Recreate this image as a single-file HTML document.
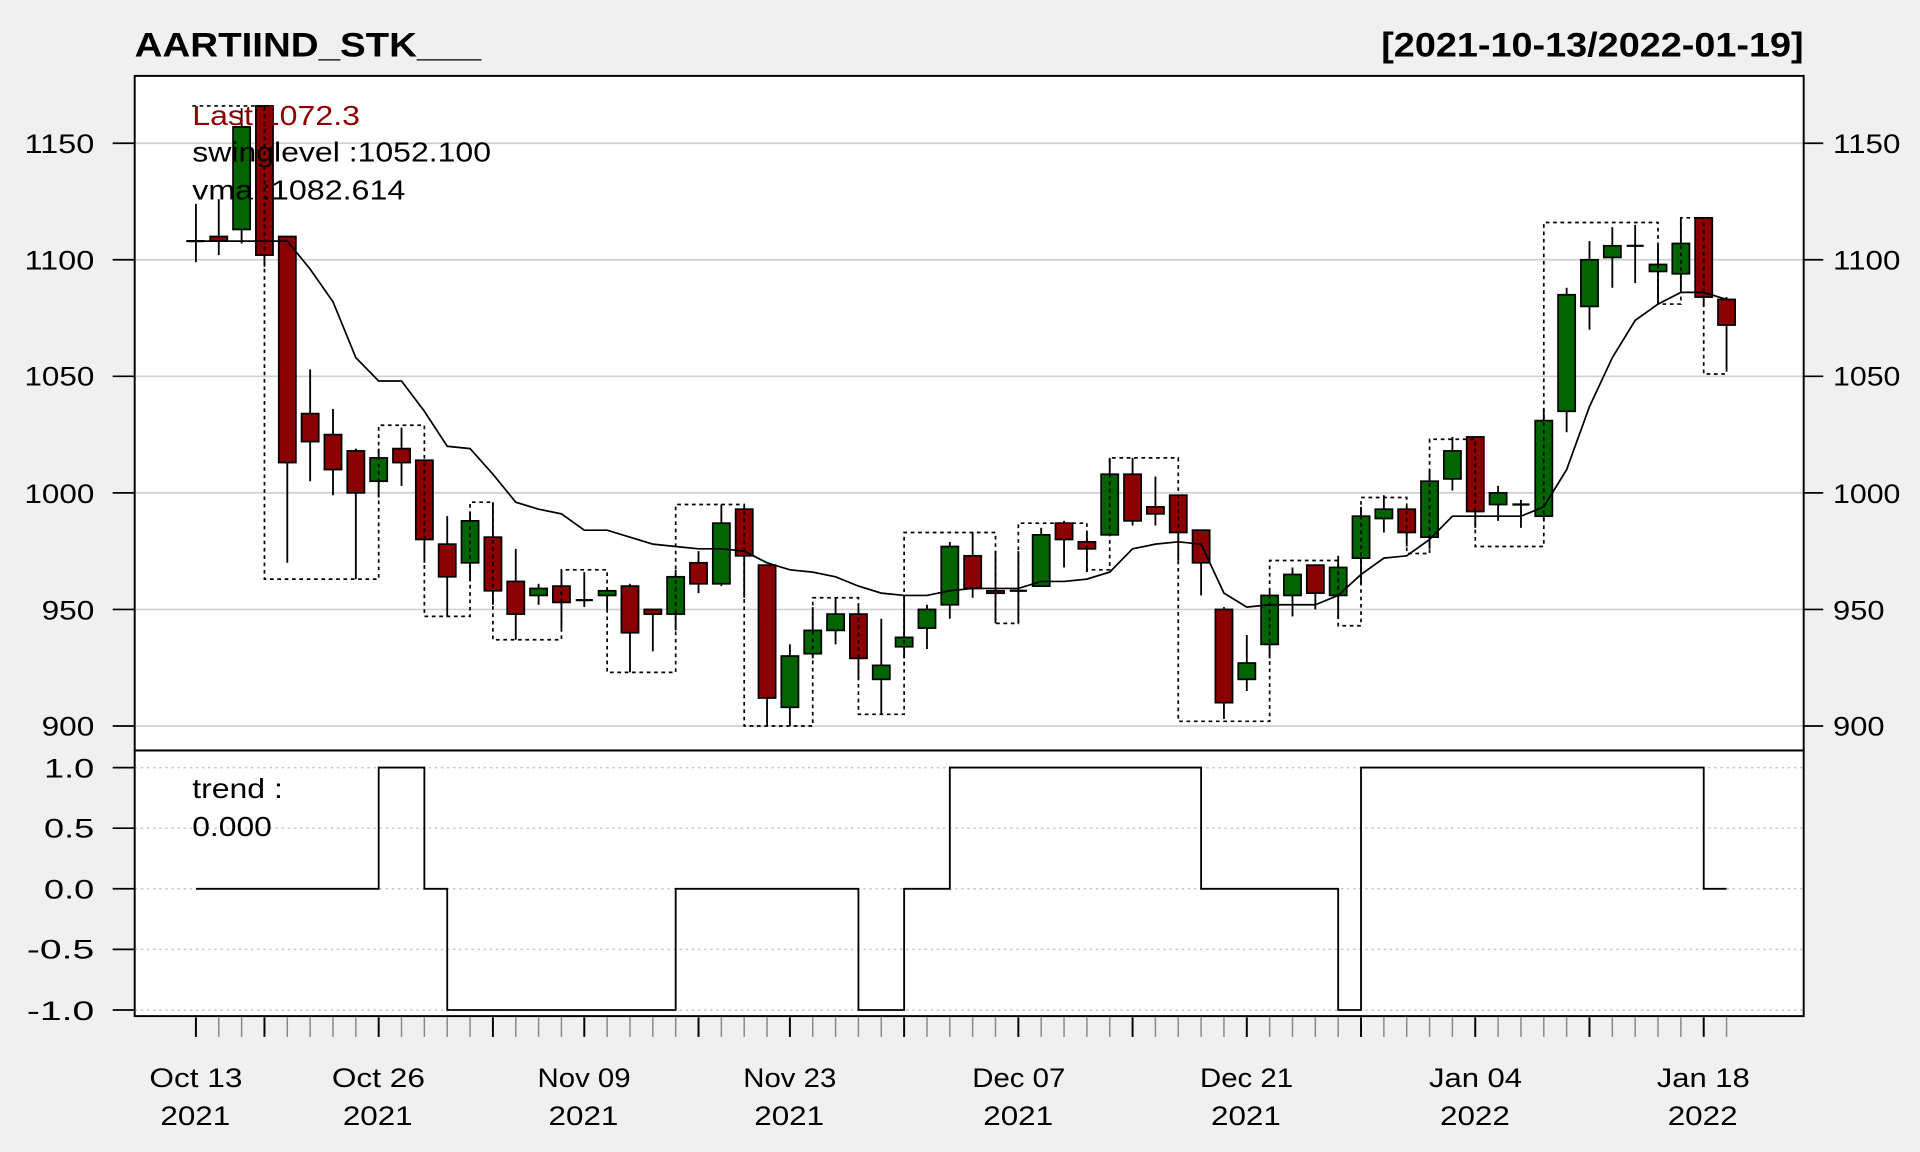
<!DOCTYPE html>
<html><head><meta charset="utf-8"><style>
html,body{margin:0;padding:0;background:#f0f0f0;}
svg{display:block;font-family:"Liberation Sans",sans-serif;}
</style></head><body>
<svg id="s" width="1920" height="1152" viewBox="0 0 1568 941" preserveAspectRatio="none" xmlns="http://www.w3.org/2000/svg">
<rect x="0" y="0" width="1568" height="941" fill="#f0f0f0"/>
<rect x="110" y="62" width="1363" height="768" fill="#fff"/>
<g id="grid"></g>
<g id="cand"></g>
<g id="lines"></g>
<rect x="110" y="62" width="1363" height="551" fill="none" stroke="#000" stroke-width="1.6"/>
<rect x="110" y="613" width="1363" height="217" fill="none" stroke="#000" stroke-width="1.6"/>
<text x="110" y="46" font-size="28" font-weight="bold" textLength="283" lengthAdjust="spacingAndGlyphs">AARTIIND_STK___</text>
<text x="1128" y="46" font-size="28" font-weight="bold" textLength="345" lengthAdjust="spacingAndGlyphs">[2021-10-13/2022-01-19]</text>
<g font-size="22">
<text x="20" y="125" textLength="57" lengthAdjust="spacingAndGlyphs">1150</text>
<text x="20" y="220" textLength="57" lengthAdjust="spacingAndGlyphs">1100</text>
<text x="20" y="315" textLength="57" lengthAdjust="spacingAndGlyphs">1050</text>
<text x="20" y="411" textLength="57" lengthAdjust="spacingAndGlyphs">1000</text>
<text x="34" y="506" textLength="43" lengthAdjust="spacingAndGlyphs">950</text>
<text x="34" y="601" textLength="43" lengthAdjust="spacingAndGlyphs">900</text>
<text x="36" y="635" textLength="41" lengthAdjust="spacingAndGlyphs">1.0</text>
<text x="36" y="684" textLength="41" lengthAdjust="spacingAndGlyphs">0.5</text>
<text x="36" y="734" textLength="41" lengthAdjust="spacingAndGlyphs">0.0</text>
<text x="22" y="783" textLength="55" lengthAdjust="spacingAndGlyphs">-0.5</text>
<text x="22" y="833" textLength="55" lengthAdjust="spacingAndGlyphs">-1.0</text>
<text x="1497" y="125" textLength="55" lengthAdjust="spacingAndGlyphs">1150</text>
<text x="1497" y="220" textLength="55" lengthAdjust="spacingAndGlyphs">1100</text>
<text x="1497" y="315" textLength="55" lengthAdjust="spacingAndGlyphs">1050</text>
<text x="1497" y="411" textLength="55" lengthAdjust="spacingAndGlyphs">1000</text>
<text x="1497" y="506" textLength="42" lengthAdjust="spacingAndGlyphs">950</text>
<text x="1497" y="601" textLength="42" lengthAdjust="spacingAndGlyphs">900</text>
</g>
<g font-size="23">
<text x="157" y="102" fill="#8b0000" textLength="137" lengthAdjust="spacingAndGlyphs">Last 1072.3</text>
<text x="157" y="132" textLength="244" lengthAdjust="spacingAndGlyphs">swinglevel :1052.100</text>
<text x="157" y="163" textLength="174" lengthAdjust="spacingAndGlyphs">vma :1082.614</text>
<text x="157" y="652" textLength="74" lengthAdjust="spacingAndGlyphs">trend :</text>
<text x="157" y="683" textLength="65" lengthAdjust="spacingAndGlyphs">0.000</text>
</g>
<g id="dates" font-size="22"></g>
</svg>
<script>
var NS="http://www.w3.org/2000/svg";
function el(p,t,a,txt){var e=document.createElementNS(NS,t);for(var k in a)e.setAttribute(k,a[k]);if(txt)e.textContent=txt;p.appendChild(e);return e;}
function X(i){return 160+i*18.657;}
function Y(p){return 117+(1150-p)*1.904;}
function T(t){return 726-99*t;}
var g=document.getElementById('grid'),c=document.getElementById('cand'),l=document.getElementById('lines'),dt=document.getElementById('dates');
[["Oct 13","2021",160],["Oct 26","2021",309],["Nov 09","2021",477],["Nov 23","2021",645],["Dec 07","2021",832],["Dec 21","2021",1018],["Jan 04","2022",1205],["Jan 18","2022",1391]].forEach(function(a){
 el(dt,'text',{x:a[2]-38,y:888,textLength:76,lengthAdjust:'spacingAndGlyphs'},a[0]);
 el(dt,'text',{x:a[2]-29,y:919,textLength:57,lengthAdjust:'spacingAndGlyphs'},a[1]);});
[1150,1100,1050,1000,950,900].forEach(function(p){var y=Y(p);
 el(g,'line',{x1:110,x2:1473,y1:y,y2:y,stroke:'#d0d0d0','stroke-width':1.4});
 el(g,'line',{x1:92,x2:110,y1:y,y2:y,stroke:'#000','stroke-width':1.4});
 el(g,'line',{x1:1473,x2:1489,y1:y,y2:y,stroke:'#000','stroke-width':1.4});});
[1,0.5,0,-0.5,-1].forEach(function(t){var y=T(t);
 el(g,'line',{x1:110,x2:1473,y1:y,y2:y,stroke:'#c8c8c8','stroke-width':1.2,'stroke-dasharray':'2,3'});
 el(g,'line',{x1:92,x2:110,y1:y,y2:y,stroke:'#000','stroke-width':1.4});});
var majors=[0,3,8,13,17,22,26,31,36,41,46,51,56,61,66];
for(var i=0;i<68;i++){var m=majors.indexOf(i)>=0;
 el(g,'line',{x1:X(i),x2:X(i),y1:831,y2:847,stroke:m?'#000':'#888','stroke-width':m?1.6:1.2});}
var D=[[1108,1124,1099,1108],[1110,1126,1102,1108],[1113,1165,1107,1157],[1166,1166,1097,1102],[1110,1110,970,1013],[1034,1053,1005,1022],[1025,1036,999,1010],[1018,1019,963,1000],[1005,1019,998,1015],[1019,1028,1003,1013],
[1014,1014,970,980],[978,990,947,964],[970,992,962,988],[981,996,952,958],[962,976,937,948],[956,961,952,959],[960,967,942,953],[954,966,951,954],[956,959,950,958],[960,961,923,940],
[950,950,932,948],[948,967,941,964],[970,975,957,961],[961,995,960,987],[993,994,955,973],[969,969,900,912],[908,935,900,930],[931,951,929,941],[941,955,935,948],[948,951,920,929],
[920,946,905,926],[934,956,929,938],[942,952,933,950],[952,979,946,977],[973,983,955,959],[958,975,944,957],[958,975,944,958],[960,985,960,982],[987,988,968,980],[979,983,966,976],
[982,1015,982,1008],[1008,1015,986,988],[994,1007,986,991],[999,999,971,983],[984,984,956,970],[950,951,903,910],[920,939,915,927],[935,958,929,956],[956,968,947,965],[969,969,950,957],
[956,973,946,968],[972,994,961,990],[989,999,983,993],[993,994,977,983],[981,1010,976,1005],[1006,1024,1001,1018],[1024,1024,985,992],[995,1003,988,1000],[995,997,985,995],[990,1036,988,1031],
[1035,1088,1026,1085],[1080,1108,1070,1100],[1101,1114,1088,1106],[1106,1115,1090,1106],[1095,1106,1081,1098],[1094,1118,1087,1107],[1118,1118,1080,1084],[1083,1084,1052,1072]];
D.forEach(function(d,i){var x=X(i),o=d[0],h=d[1],lo=d[2],cl=d[3];
 el(c,'line',{x1:x,x2:x,y1:Y(h),y2:Y(lo),stroke:'#000','stroke-width':1.5});
 if(o==cl){el(c,'line',{x1:x-7,x2:x+7,y1:Y(o),y2:Y(o),stroke:'#000','stroke-width':1.8});}
 else{var t=Math.max(o,cl),b=Math.min(o,cl);
 el(c,'rect',{x:x-7,y:Y(t),width:14,height:Math.max(Y(b)-Y(t),2),fill:cl>o?'#006400':'#8b0000',stroke:'#000','stroke-width':1.4});}});
var S=[[0,3,1166],[3,8,963],[8,10,1029],[10,12,947],[12,13,996],[13,16,937],[16,18,967],[18,21,923],[21,24,995],[24,27,900],[27,29,955],[29,31,905],[31,35,983],[35,36,944],[36,39,987],[39,40,967],[40,43,1015],[43,47,902],[47,50,971],[50,51,943],[51,53,998],[53,54,974],[54,56,1023],[56,59,977],[59,64,1116],[64,65,1081],[65,66,1118],[66,67,1051]];
var d='M'+(X(0)-3)+' '+Y(S[0][2]);
S.forEach(function(s,k){ if(k>0) d+=' L'+X(s[0])+' '+Y(s[2]); d+=' L'+X(s[1])+' '+Y(s[2]);});
el(l,'path',{d:d,fill:'none',stroke:'#000','stroke-width':1.4,'stroke-dasharray':'3,3'});
var V=[1108,1108,1108,1108,1108,1096,1082,1058,1048,1048,1035,1020,1019,1008,996,993,991,984,984,981,978,977,976,976,975,970,967,966,964,960,957,956,956,958,959,959,959,962,962,963,966,976,978,979,978,957,951,952,952,952,956,965,972,973,980,990,990,990,990,994,1010,1037,1058,1074,1081,1086,1086,1083];
var v='M'+(X(0)-8)+' '+Y(V[0]);V.forEach(function(p,i){v+=' L'+X(i)+' '+Y(p);});
el(l,'path',{d:v,fill:'none',stroke:'#000','stroke-width':1.4});
var TR=[[0,8,0],[8,10,1],[10,11,0],[11,21,-1],[21,29,0],[29,31,-1],[31,33,0],[33,44,1],[44,50,0],[50,51,-1],[51,66,1],[66,67,0]];
var t='M'+X(0)+' '+T(0);TR.forEach(function(s,k){if(k>0)t+=' L'+X(s[0])+' '+T(s[2]);t+=' L'+X(s[1])+' '+T(s[2]);});
el(l,'path',{d:t,fill:'none',stroke:'#000','stroke-width':1.5});
</script>
</body></html>
